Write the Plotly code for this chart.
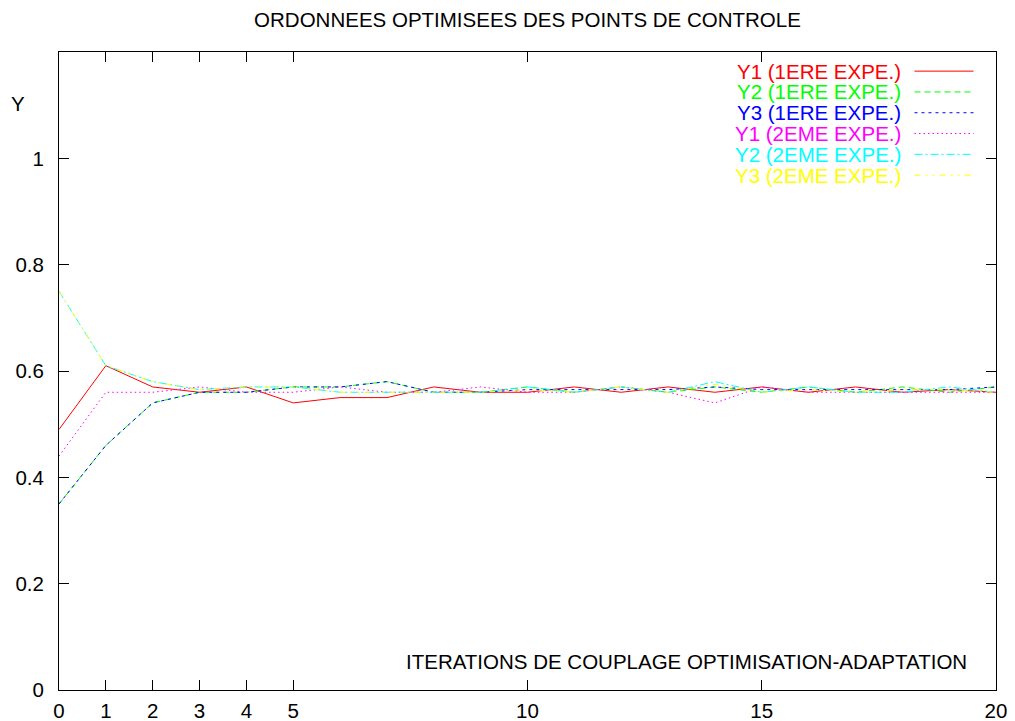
import plotly.graph_objects as go

iterations = list(range(21))
y1_exp1 = [0.49, 0.61, 0.57, 0.56, 0.57, 0.54, 0.55, 0.55, 0.57, 0.56, 0.56,
           0.57, 0.56, 0.57, 0.56, 0.57, 0.56, 0.57, 0.56, 0.565, 0.56]
y2_exp1 = [0.35, 0.46, 0.54, 0.56, 0.56, 0.57, 0.57, 0.58, 0.56, 0.56, 0.57,
           0.56, 0.57, 0.56, 0.57, 0.56, 0.57, 0.56, 0.57, 0.56, 0.57]
y3_exp1 = [0.35, 0.46, 0.54, 0.56, 0.56, 0.57, 0.57, 0.58, 0.56, 0.56, 0.565,
           0.565, 0.565, 0.565, 0.57, 0.565, 0.565, 0.565, 0.565, 0.565, 0.57]
y1_exp2 = [0.44, 0.56, 0.56, 0.57, 0.56, 0.56, 0.57, 0.56, 0.56, 0.57, 0.56,
           0.56, 0.57, 0.56, 0.54, 0.57, 0.56, 0.56, 0.56, 0.56, 0.56]
y2_exp2 = [0.75, 0.61, 0.58, 0.565, 0.57, 0.57, 0.56, 0.56, 0.56, 0.56, 0.57,
           0.56, 0.57, 0.56, 0.58, 0.56, 0.57, 0.56, 0.56, 0.57, 0.56]
y3_exp2 = [0.75, 0.61, 0.58, 0.565, 0.57, 0.57, 0.56, 0.56, 0.56, 0.56, 0.565,
           0.56, 0.57, 0.56, 0.575, 0.56, 0.565, 0.56, 0.565, 0.565, 0.56]

series_names = ["Y1 (1ERE EXPE.)", "Y2 (1ERE EXPE.)", "Y3 (1ERE EXPE.)",
                "Y1 (2EME EXPE.)", "Y2 (2EME EXPE.)", "Y3 (2EME EXPE.)"]
series_values = [y1_exp1, y2_exp1, y3_exp1, y1_exp2, y2_exp2, y3_exp2]
series_colors = ["#ff0000", "#00ff00", "#0000ff", "#ff00ff", "#00ffff", "#ffff00"]
series_dashes = ["solid", "6px,4px", "3px,4px", "1.5px,3px", "8px,3px,2px,3px",
                 "6px,5px,2px,5px,2px,5px"]

x_ticks = [0, 1, 2, 3, 4, 5, 10, 15, 20]
y_ticks = [0, 0.2, 0.4, 0.6, 0.8, 1.0]
y_tick_labels = ["0", "0.2", "0.4", "0.6", "0.8", "1"]

FONT = "Liberation Sans, Arial, sans-serif"
FS = 20.5

# the page body has an 8px default margin; figure is sized to fit inside it
W, H = 1007, 713

fig = go.Figure()
for name, vals, col, dash in zip(series_names, series_values, series_colors, series_dashes):
    fig.add_trace(go.Scatter(x=iterations, y=vals, mode="lines", name=name,
                             line=dict(color=col, width=1, dash=dash),
                             showlegend=False))

# custom legend: coloured text right-aligned, sample line to the right
leg_top = 0.970
leg_step = 0.0326
for i, (name, col, dash) in enumerate(zip(series_names, series_colors, series_dashes)):
    yy = leg_top - i * leg_step
    fig.add_annotation(xref="paper", yref="paper", x=0.9005, y=yy, text=name,
                       showarrow=False, xanchor="right", yanchor="middle",
                       font=dict(family=FONT, size=FS, color=col))
    fig.add_shape(type="line", xref="paper", yref="paper", x0=0.913, x1=0.976,
                  y0=yy, y1=yy, line=dict(color=col, width=1, dash=dash))

fig.add_annotation(xref="paper", yref="paper", x=-0.0438, y=0.9185, text="Y",
                   showarrow=False, xanchor="center", yanchor="middle",
                   font=dict(family=FONT, size=FS, color="black"))
fig.add_annotation(xref="paper", yref="paper", x=0.971, y=0.044,
                   text="ITERATIONS DE COUPLAGE OPTIMISATION-ADAPTATION",
                   showarrow=False, xanchor="right", yanchor="middle",
                   font=dict(family=FONT, size=FS, color="black"))

fig.update_layout(
    width=W, height=H,
    margin=dict(l=51, r=19, t=44, b=31, pad=0, autoexpand=False),
    paper_bgcolor="white", plot_bgcolor="white",
    font=dict(family=FONT, size=FS, color="black"),
    title=dict(text="ORDONNEES OPTIMISEES DES POINTS DE CONTROLE",
               x=0.5, xref="paper", y=1 - 12 / H, yref="container",
               xanchor="center", yanchor="middle",
               font=dict(family=FONT, size=FS, color="black")),
    xaxis=dict(range=[0, 20], tickvals=x_ticks, ticktext=[str(v) for v in x_ticks],
               showgrid=False, zeroline=False, showline=True, linecolor="black",
               linewidth=1, mirror="ticks", ticks="inside", ticklen=10,
               tickcolor="black", tickwidth=1, ticklabelstandoff=2, automargin=False),
    yaxis=dict(range=[0, 1.2], tickvals=y_ticks, ticktext=y_tick_labels,
               showgrid=False, zeroline=False, showline=True, linecolor="black",
               linewidth=1, mirror="ticks", ticks="inside", ticklen=10,
               tickcolor="black", tickwidth=1, ticklabelstandoff=10, automargin=False),
)

fig.write_html("out.html")
